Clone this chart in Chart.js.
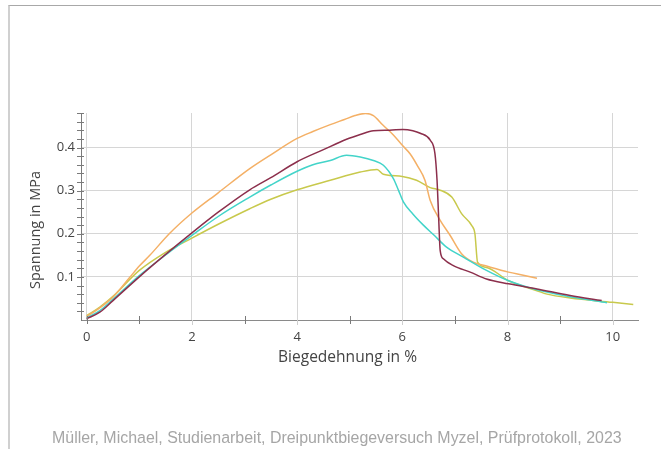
<!DOCTYPE html>
<html>
<head>
<meta charset="utf-8">
<script src="https://cdn.jsdelivr.net/npm/chart.js@4/dist/chart.umd.min.js"></script>
<style>
  html, body { margin: 0; padding: 0; background: #fff; }
  body { width: 661px; height: 449px; overflow: hidden; position: relative; }
  #c { position: absolute; left: 0; top: 0; }
  #frame { position: absolute; left: 8px; top: 5px; right: -2px; bottom: -2px;
           border-top: 1px solid #a8a8a8; border-left: 2px solid #d0d0d0; pointer-events: none; }
  #footer { position: absolute; left: 52px; top: 429px; color: #a6a6a6;
            font-family: "Liberation Sans", Arial, sans-serif; white-space: nowrap; }
</style>
</head>
<body>
<canvas id="c" width="661" height="449"></canvas>
<div id="frame"></div>
<div id="footer">Müller, Michael, Studienarbeit, Dreipunktbiegeversuch Myzel, Prüfprotokoll, 2023</div>
<script>
// ---- data ----
const xTitle = "Biegedehnung in %";
const yTitle = "Spannung in MPa";
const xTickValues = [0, 2, 4, 6, 8, 10];
const yTickValues = [0.1, 0.2, 0.3, 0.4];

const strainMaroon = [0, 0.25, 0.5, 1, 1.5, 2, 2.5, 3.1, 3.5, 4, 4.5, 4.94, 5.2, 5.45, 5.76, 6.01, 6.2, 6.34, 6.53, 6.62, 6.66, 6.69, 6.72, 6.78, 6.97, 7.29, 7.6, 8.02, 8.56, 9.19, 9.79];
const stressMaroon = [0.003, 0.018, 0.045, 0.1, 0.152, 0.202, 0.25, 0.302, 0.33, 0.367, 0.395, 0.419, 0.43, 0.439, 0.44, 0.442, 0.439, 0.433, 0.417, 0.386, 0.324, 0.239, 0.161, 0.142, 0.126, 0.111, 0.095, 0.084, 0.072, 0.057, 0.045];

const strainCyan = [0, 0.25, 0.5, 1, 1.6, 2, 2.5, 3.1, 3.5, 4, 4.3, 4.63, 4.94, 5.2, 5.45, 5.64, 5.83, 5.93, 6.02, 6.2, 6.4, 6.6, 6.84, 7.16, 7.6, 8.02, 8.56, 9.19, 9.89];
const stressCyan = [0.005, 0.022, 0.048, 0.103, 0.16, 0.196, 0.24, 0.285, 0.313, 0.345, 0.36, 0.37, 0.382, 0.378, 0.37, 0.359, 0.328, 0.3, 0.274, 0.246, 0.22, 0.197, 0.169, 0.146, 0.115, 0.091, 0.07, 0.054, 0.04];

const strainOrange = [0, 0.25, 0.5, 0.82, 1, 1.2, 1.57, 2, 2.5, 3.1, 3.5, 4, 4.3, 4.63, 4.9, 5.1, 5.3, 5.45, 5.63, 5.83, 6, 6.15, 6.3, 6.43, 6.53, 6.72, 6.91, 7.13, 7.35, 7.6, 8.02, 8.3, 8.56];
const stressOrange = [0.008, 0.028, 0.053, 0.099, 0.125, 0.15, 0.2, 0.248, 0.295, 0.351, 0.383, 0.421, 0.437, 0.453, 0.465, 0.474, 0.479, 0.474, 0.452, 0.429, 0.405, 0.385, 0.355, 0.324, 0.277, 0.231, 0.196, 0.153, 0.134, 0.125, 0.111, 0.104, 0.097];

const strainYellow = [0, 0.25, 0.5, 1, 1.5, 2, 2.5, 3.1, 3.5, 4, 4.63, 5.2, 5.52, 5.64, 6, 6.27, 6.53, 6.72, 6.94, 7.13, 7.32, 7.38, 7.43, 7.6, 8.02, 8.56, 8.75, 9.19, 10, 10.39];
const stressYellow = [0.01, 0.03, 0.055, 0.115, 0.157, 0.19, 0.222, 0.258, 0.28, 0.302, 0.324, 0.343, 0.349, 0.338, 0.333, 0.324, 0.307, 0.301, 0.285, 0.246, 0.219, 0.2, 0.134, 0.122, 0.091, 0.068, 0.06, 0.051, 0.041, 0.036];

function pts(xs, ys) { return xs.map((x, i) => ({ x: x, y: ys[i] })); }

// ---- fit footer text width ----
(function () {
  const f = document.getElementById('footer');
  const cv = document.createElement('canvas').getContext('2d');
  cv.font = '16px "Liberation Sans"';
  const w = cv.measureText(f.textContent).width;
  const size = 16 * 570 / w;
  f.style.fontSize = size.toFixed(2) + 'px';
})();

const tickFont = { family: '"Open Sans", "Noto Sans", sans-serif', size: 13 };

const decorPlugin = {
  id: 'decor',
  afterDraw(chart) {
    const ctx = chart.ctx;
    const xs = chart.scales.x, ys = chart.scales.y;
    const area = chart.chartArea;
    ctx.save();
    ctx.lineWidth = 1;
    // x ticks crossing the axis
    for (let v = 0; v <= 10; v++) {
      const px = Math.round(xs.getPixelForValue(v)) + 0.5;
      ctx.beginPath();
      if (v % 2 === 1 || v === 0) {
        ctx.strokeStyle = '#7a7a7a';
        ctx.moveTo(px, area.bottom - 4);
        ctx.lineTo(px, area.bottom + 4);
      } else {
        ctx.strokeStyle = '#cfcfcf';
        ctx.moveTo(px, area.bottom);
        ctx.lineTo(px, area.bottom + 5);
      }
      ctx.stroke();
    }
    // y minor ticks crossing the axis
    ctx.strokeStyle = '#7a7a7a';
    for (let k = 1; k <= 24; k++) {
      const py = Math.round(ys.getPixelForValue(k * 0.02)) + 0.5;
      ctx.beginPath();
      ctx.moveTo(area.left - 4, py);
      ctx.lineTo(area.left + 3, py);
      ctx.stroke();
    }
    // axis titles
    ctx.fillStyle = '#444444';
    ctx.textAlign = 'center';
    ctx.textBaseline = 'middle';
    const fam = '"Open Sans", "Noto Sans", sans-serif';
    ctx.font = '14px ' + fam;
    let s = 14 * 139 / ctx.measureText(xTitle).width;
    ctx.font = s.toFixed(2) + 'px ' + fam;
    ctx.fillText(xTitle, 347.5, 358);
    ctx.font = '14px ' + fam;
    s = 14 * 118 / ctx.measureText(yTitle).width;
    ctx.font = s.toFixed(2) + 'px ' + fam;
    ctx.translate(35.5, 230);
    ctx.rotate(-Math.PI / 2);
    ctx.fillText(yTitle, 0, 0);
    ctx.restore();
  }
};

const common = { showLine: true, pointRadius: 0, borderWidth: 1.5, cubicInterpolationMode: 'monotone', fill: false };

new Chart(document.getElementById('c'), {
  type: 'scatter',
  data: {
    datasets: [
      Object.assign({ label: 'Probe 1', data: pts(strainMaroon, stressMaroon), borderColor: '#8c2f4c' }, common),
      Object.assign({ label: 'Probe 2', data: pts(strainCyan, stressCyan), borderColor: '#43d4c9' }, common),
      Object.assign({ label: 'Probe 3', data: pts(strainOrange, stressOrange), borderColor: '#f4b066' }, common),
      Object.assign({ label: 'Probe 4', data: pts(strainYellow, stressYellow), borderColor: '#c8c94c' }, common)
    ]
  },
  options: {
    responsive: false,
    animation: false,
    events: [],
    layout: { padding: { left: 0, top: 113, right: 23, bottom: 0 } },
    plugins: { legend: { display: false }, tooltip: { enabled: false } },
    scales: {
      x: {
        type: 'linear',
        min: -0.108,
        max: 10.48,
        afterBuildTicks(scale) { scale.ticks = xTickValues.map(v => ({ value: v })); },
        afterFit(scale) { scale.height = 129; },
        grid: { color: '#d6d6d6', lineWidth: 1, drawTicks: false },
        border: { display: true, color: '#8a8a8a', width: 1 },
        ticks: { font: tickFont, color: '#444444', padding: 9, maxRotation: 0 },
        title: { display: false }
      },
      y: {
        type: 'linear',
        min: 0,
        max: 0.48,
        afterBuildTicks(scale) { scale.ticks = yTickValues.map(v => ({ value: v })); },
        afterFit(scale) { scale.width = 81; },
        grid: { color: '#d6d6d6', lineWidth: 1, drawTicks: false },
        border: { display: true, color: '#7a7a7a', width: 1 },
        ticks: { font: tickFont, color: '#444444', padding: 6, callback: v => String(v) },
        title: { display: false }
      }
    }
  },
  plugins: [decorPlugin]
});
</script>
</body>
</html>
